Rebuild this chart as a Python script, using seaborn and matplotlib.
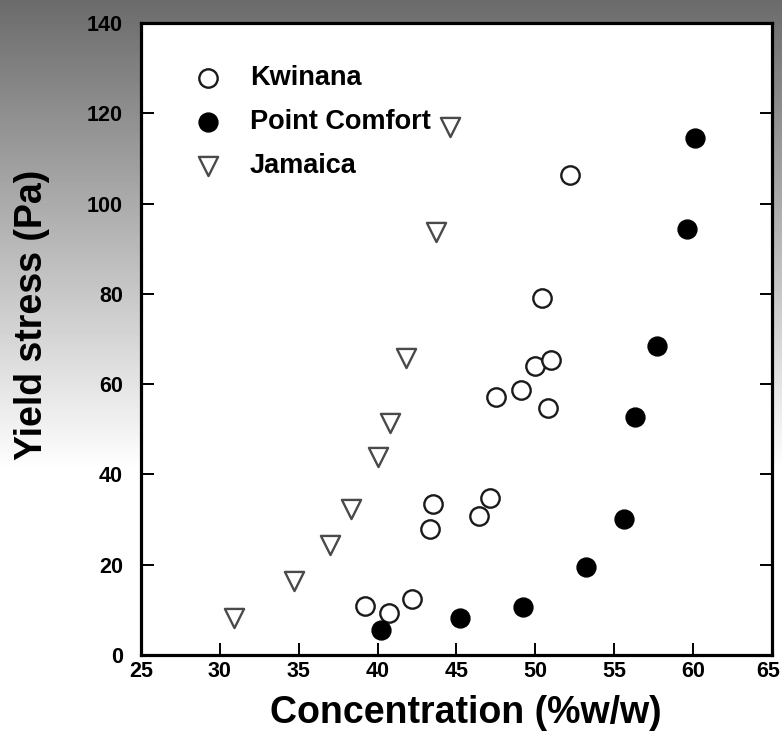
import numpy as np
import pandas as pd
import matplotlib
matplotlib.use('Agg')
import matplotlib.pyplot as plt
import matplotlib.transforms as mtransforms
import seaborn as sns

# Datos
kwinana_x = [39.2, 40.7, 42.2, 43.3, 43.5, 46.4, 47.1, 47.5, 49.1, 50.0, 51.0, 50.8, 50.4, 52.2]
kwinana_y = [10.9, 9.4, 12.3, 27.9, 33.5, 30.9, 34.8, 57.2, 58.7, 64.0, 65.3, 54.7, 79.1, 106.3]

point_x = [40.2, 45.2, 49.2, 53.2, 55.6, 56.3, 57.7, 59.6, 60.1]
point_y = [5.5, 8.2, 10.6, 19.5, 30.1, 52.8, 68.5, 94.3, 114.6]

jamaica_x = [30.9, 34.7, 37.0, 38.3, 40.0, 40.8, 41.8, 43.7, 44.6]
jamaica_y = [8.3, 16.4, 24.4, 32.4, 43.9, 51.4, 65.8, 93.6, 116.9]

x_ticks = [25, 30, 35, 40, 45, 50, 55, 60, 65]
y_ticks = [0, 20, 40, 60, 80, 100, 120, 140]

sns.set_style('ticks')
plt.rcParams['font.family'] = ['Liberation Sans', 'DejaVu Sans']
plt.rcParams['text.color'] = 'black'
plt.rcParams['axes.labelcolor'] = 'black'

fig = plt.figure(figsize=(7.82, 7.44), dpi=100)

# Fondo degradado gris
bg = fig.add_axes([0, 0, 1, 1], zorder=-10)
rows = np.arange(744)
vals = np.clip(0.42 + 0.58 * rows / 470.0, 0, 1)
grad = np.tile(vals[:, None], (1, 10))
bg.imshow(grad, cmap='gray', vmin=0, vmax=1, aspect='auto', extent=[0, 1, 1, 0])
bg.axis('off')

ax = fig.add_axes([141 / 782, 89 / 744, 631 / 782, 632 / 744])
ax.set_facecolor('white')

df_k = pd.DataFrame({'x': kwinana_x, 'y': kwinana_y})
df_p = pd.DataFrame({'x': point_x, 'y': point_y})
df_j = pd.DataFrame({'x': jamaica_x, 'y': jamaica_y})

sns.scatterplot(data=df_k, x='x', y='y', ax=ax, marker='o', s=175,
                facecolor='white', edgecolor='#1a1a1a', linewidth=1.7,
                label='Kwinana', zorder=3)
sns.scatterplot(data=df_p, x='x', y='y', ax=ax, marker='o', s=185,
                color='black', edgecolor='black', linewidth=1,
                label='Point Comfort', zorder=3)
sns.scatterplot(data=df_j, x='x', y='y', ax=ax, marker='v', s=190,
                facecolor='white', edgecolor='#4a4a4a', linewidth=1.7,
                label='Jamaica', zorder=3)

ax.set_xlim(25, 65)
ax.set_ylim(0, 140)
ax.set_xticks(x_ticks)
ax.set_yticks(y_ticks)

tick_font = dict(fontsize=15.5, fontweight='bold')
ax.set_xticklabels([str(t) for t in x_ticks], **tick_font)
ax.set_yticklabels([str(t) for t in y_ticks], **tick_font)
ax.tick_params(axis='both', direction='in', length=9, width=1.4,
               colors='black')
ax.tick_params(axis='x', pad=4)
ax.tick_params(axis='y', pad=13, right=True)

# el ultimo rotulo queda pegado al borde derecho
last = ax.get_xticklabels()[-1]
last.set_transform(last.get_transform() +
                   mtransforms.ScaledTranslation(-4 / 100, 0, fig.dpi_scale_trans))

for s in ax.spines.values():
    s.set_linewidth(2.3)
    s.set_color('black')

ax.set_xlabel('Concentration (%w/w)', fontsize=27, fontweight='bold')
ax.set_ylabel('Yield stress (Pa)', fontsize=27, fontweight='bold')
ax.xaxis.set_label_coords(0.515, -0.064)
ax.yaxis.set_label_coords(-0.145, 0.538)

leg = ax.legend(loc='upper left', bbox_to_anchor=(0.063, 0.955),
                frameon=False, borderpad=0, handlelength=1.0,
                handletextpad=1.05, labelspacing=0.66,
                prop={'size': 19.5, 'weight': 'bold'})
for t in leg.get_texts():
    t.set_color('black')

plt.savefig('out.png', dpi=100)
